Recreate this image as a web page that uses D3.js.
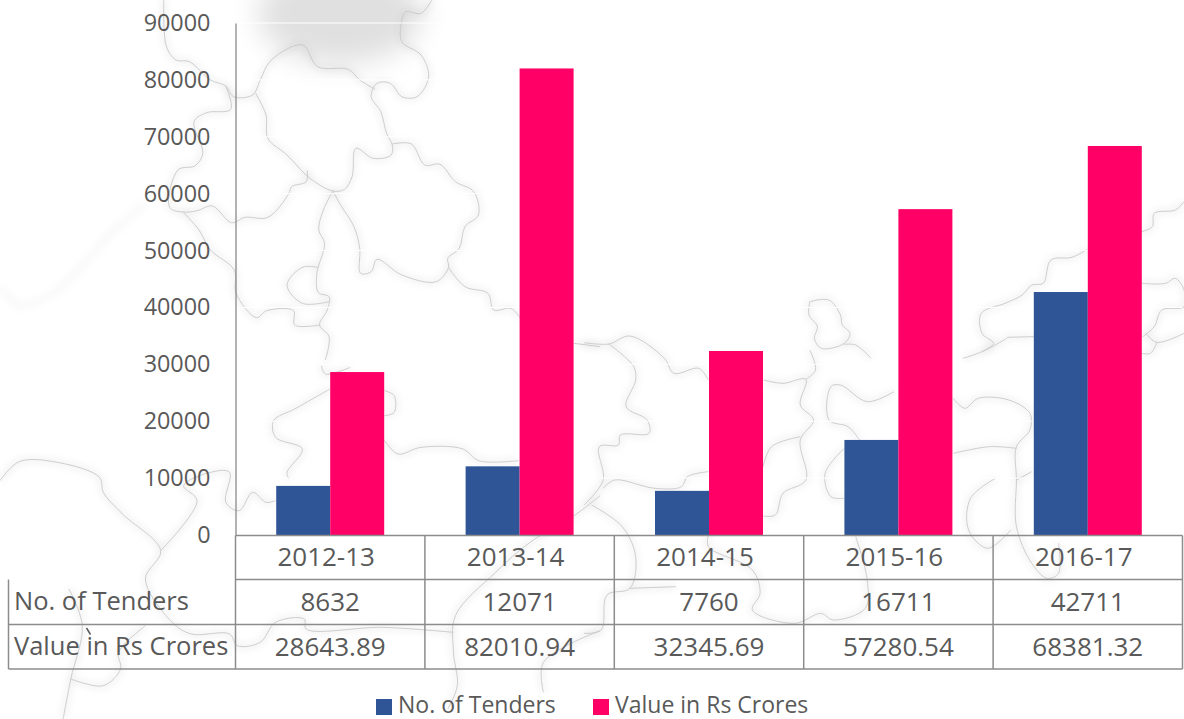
<!DOCTYPE html>
<html>
<head>
<meta charset="utf-8">
<script src="https://cdn.jsdelivr.net/npm/d3@7"></script>
<style>
  html, body { margin: 0; padding: 0; background: #fff; }
  svg { display: block; }
  text { font-family: "Open Sans", sans-serif; fill: #595959; }
  .axis path { stroke: #808080; stroke-width: 1.2; }
  .axis line { display: none; }
  .axis text { font-family: "Open Sans", sans-serif; font-size: 23.4px; fill: #595959; }
  .table-line { stroke: #8c8c8c; stroke-width: 1.5; }
</style>
</head>
<body>
<div id="chart"></div>
<script>
// DATA
const years = ["2012-13", "2013-14", "2014-15", "2015-16", "2016-17"];
const tenders = [8632, 12071, 7760, 16711, 42711];
const valueCrores = [28643.89, 82010.94, 32345.69, 57280.54, 68381.32];
const valueLabels = ["28643.89", "82010.94", "32345.69", "57280.54", "68381.32"];
const seriesNames = ["No. of Tenders", "Value in Rs Crores"];
const seriesColors = ["#2F5597", "#FF0066"];
const yTicks = [0, 10000, 20000, 30000, 40000, 50000, 60000, 70000, 80000, 90000];

// faint map behind the chart in four crops
// (crop x/y are stretched differently, toPage() puts them back on the page)
const crops = {
  topLeft: [0, 0],
  topRight: [584, 0],
  bottomLeft: [0, 359],
  bottomRight: [584, 330],
};
const mapTraces = [
  ["topLeft", [[428,0],[435,140],[460,180],[495,185],[550,240],[590,258],[610,290],[660,285],[680,240],[705,185],[770,137],[795,137],[830,200],[910,208],[940,240],[980,268]]],
  ["topLeft", [[590,258],[603,328],[540,338],[507,365],[530,460],[510,497],[465,510],[443,622],[478,636],[515,632],[555,618],[605,668],[640,652],[700,652],[755,580],[762,560],[800,545],[803,512]]],
  ["topLeft", [[668,280],[695,345],[700,415],[750,465],[810,535],[870,573],[900,568],[920,530],[930,445],[975,475],[1022,465],[1025,435],[1010,400],[995,335],[970,290],[985,250],[1020,250],[1050,290],[1090,290],[1120,230],[1100,165],[1050,125],[1050,60],[1060,35],[1100,40],[1128,0]]],
  ["topLeft", [[1025,432],[1075,432],[1110,495],[1150,493],[1190,545],[1238,575],[1250,645],[1215,680],[1200,745],[1170,775],[1172,802],[1140,845],[1050,825],[985,778],[970,815],[942,820],[940,745],[925,680],[890,615],[870,573]]],
  ["topLeft", [[870,573],[845,630],[833,690],[848,730],[828,820],[832,878],[860,890],[855,930],[835,975],[860,1010],[850,1080]]],
  ["topLeft", [[830,802],[790,802],[750,855],[790,910],[860,905]]],
  ["topLeft", [[478,636],[520,690],[550,750],[612,810],[617,880],[670,953],[697,932],[767,932],[770,975],[835,975]]],
  ["topLeft", [[1172,802],[1215,860],[1275,880],[1290,930],[1335,925],[1360,955]]],
  ["topLeft", [[1500,1030],[1568,1040]]],
  ["bottomLeft", [[1005,245],[1040,285],[1100,265],[1210,270],[1250,305],[1355,305]]],
  ["bottomLeft", [[0,365],[50,308],[150,310],[260,355],[270,400],[320,465],[420,575],[380,660],[450,790],[500,825],[600,825],[620,860],[680,850],[720,790],[795,780],[800,810],[1000,805],[1185,820]]],
  ["bottomLeft", [[420,575],[515,425],[480,380],[550,340],[600,340],[590,430],[625,455],[660,400],[695,430],[720,425]]],
  ["bottomLeft", [[862,90],[770,150],[715,185],[720,235],[790,270],[750,340],[755,360]]],
  ["bottomLeft", [[1005,95],[1030,110],[1030,160],[1005,170]]],
  ["bottomLeft", [[840,20],[850,45],[915,25]]],
  ["bottomLeft", [[180,690],[215,800],[185,960],[165,1080]]],
  ["bottomLeft", [[185,960],[270,980],[315,930],[310,880],[380,800]]],
  ["bottomLeft", [[1568,410],[1500,470],[1385,550],[1295,640],[1190,770],[1185,880],[1195,980],[1170,1050]]],
  ["bottomLeft", [[1420,1000],[1420,910],[1568,815]]],
  ["bottomRight", [[0,38],[65,42],[120,18],[210,85],[235,130],[300,115],[325,150]]],
  ["bottomRight", [[65,42],[130,110],[135,150],[110,230],[165,270],[170,310],[95,315],[90,345],[40,350],[50,450],[0,525]]],
  ["bottomRight", [[50,475],[80,450],[185,475],[255,470],[270,440],[325,425]]],
  ["bottomRight", [[20,525],[100,590],[135,680],[120,775],[60,795],[45,900],[0,910]]],
  ["bottomRight", [[120,775],[240,770]]],
  ["bottomRight", [[325,615],[325,650],[440,720],[460,790],[440,840],[550,880],[620,850],[650,870],[735,835],[740,750],[710,620]]],
  ["bottomRight", [[470,150],[520,160],[580,148],[565,225],[600,270],[565,330],[580,450],[520,490],[500,555],[468,558]]],
  ["bottomRight", [[468,410],[490,350],[565,320]]],
  ["bottomRight", [[590,60],[605,120],[580,148]]],
  ["bottomRight", [[720,330],[690,290],[640,270],[645,170],[670,165],[740,215],[810,185]]],
  ["bottomRight", [[680,355],[630,430],[645,500],[680,505]]],
  ["bottomRight", [[965,205],[995,235],[1030,205],[1110,210],[1165,250],[1165,300],[1130,350],[1130,450],[1130,590],[1170,700],[1210,745],[1240,730],[1240,640]]],
  ["bottomRight", [[965,370],[1060,350],[1130,355]]],
  ["bottomRight", [[1130,450],[1170,425]]],
  ["bottomRight", [[1075,445],[1010,505],[1005,600],[1055,655],[1115,600]]],
  ["topRight", [[1105,1012],[1175,1010]]],
  ["topRight", [[990,1075],[1040,1055],[1105,1015]]],
  ["topRight", [[1040,1055],[1070,1030],[1040,1000],[1038,940],[1100,910],[1145,885],[1170,855],[1200,850],[1220,780],[1275,772],[1315,748]]],
  ["topRight", [[1457,695],[1485,680],[1490,640],[1545,630],[1568,605]]],
  ["topRight", [[1457,850],[1520,850],[1545,835],[1568,870],[1568,920],[1510,930],[1490,980],[1460,1010]]],
  ["topRight", [[1468,1000],[1497,1027],[1568,1000]]],
  ["topRight", [[1497,1027],[1480,1060],[1457,1060]]],
  ["topRight", [[590,905],[640,900],[670,945],[675,975],[695,1000],[680,1030],[620,1045],[602,1015],[610,980],[588,945],[590,905]]],
  ["topRight", [[680,1033],[710,1035],[750,1075]]],
];
const faintHalo = ["topLeft", [[0,860],[50,915],[150,870],[290,700],[380,610]]];

const width = 1184, height = 719;
const plot = { left: 235.5, right: 1182.5, top: 23, bottom: 535 };
const rowLines = [535.5, 579.5, 624.5, 669];
const tableLeft = 8.5;

function toPage(trace) {
  const [ox, oy] = crops[trace[0]];
  return trace[1].map((p) => [ox + p[0] * 0.3827, oy + p[1] / 3]);
}

const svg = d3.select("#chart").append("svg").attr("width", width).attr("height", height);

const defs = svg.append("defs");
defs.append("filter").attr("id", "soft").attr("filterUnits", "userSpaceOnUse")
  .attr("x", 0).attr("y", 0).attr("width", width).attr("height", height)
  .append("feGaussianBlur").attr("stdDeviation", 3.5);
defs.append("filter").attr("id", "cloud").attr("filterUnits", "userSpaceOnUse")
  .attr("x", 0).attr("y", -100).attr("width", width).attr("height", 400)
  .append("feGaussianBlur").attr("stdDeviation", 14);

// SCALES
const xScale = d3.scaleBand().domain(years).range([plot.left, plot.right]);
const xInner = d3.scaleBand().domain(seriesNames).range([0, xScale.bandwidth()]).paddingOuter(0.754).paddingInner(0);
const yScale = d3.scaleLinear().domain([0, 90000]).range([plot.bottom, plot.top]);

// BACKGROUND MAP
const mapLine = d3.line().curve(d3.curveCatmullRom.alpha(0.5));
const map = svg.append("g").attr("class", "map");
map.append("ellipse").attr("cx", 340).attr("cy", 14).attr("rx", 82).attr("ry", 50)
  .attr("fill", "#e0e0e0").attr("filter", "url(#cloud)");
map.append("g").attr("filter", "url(#soft)")
  .selectAll("path").data(mapTraces).join("path")
  .attr("d", (d) => mapLine(toPage(d)))
  .attr("fill", "none").attr("stroke", "#000").attr("stroke-opacity", 0.05).attr("stroke-width", 6);
map.append("path").attr("filter", "url(#soft)")
  .attr("d", mapLine(toPage(faintHalo)))
  .attr("fill", "none").attr("stroke", "#000").attr("stroke-opacity", 0.025).attr("stroke-width", 8);
map.append("g")
  .selectAll("path").data(mapTraces).join("path")
  .attr("d", (d) => mapLine(toPage(d)))
  .attr("fill", "none").attr("stroke", "#c8c8c8").attr("stroke-width", 0.9);

// white gridlines only show where they cross the grey map
svg.append("g").selectAll("line").data(yTicks.slice(1)).join("line")
  .attr("x1", plot.left).attr("x2", plot.right)
  .attr("y1", (d) => yScale(d)).attr("y2", (d) => yScale(d))
  .attr("stroke", "#fff").attr("stroke-width", 1);

// BARS
const seriesValues = [tenders, valueCrores];
seriesNames.forEach((name, i) => {
  svg.append("g").selectAll("rect").data(seriesValues[i]).join("rect")
    .attr("x", (d, j) => xScale(years[j]) + xInner(name))
    .attr("width", xInner.bandwidth())
    .attr("y", (d) => yScale(d))
    .attr("height", (d) => yScale(0) - yScale(d))
    .attr("fill", seriesColors[i]);
});

// AXIS
svg.append("g").attr("class", "axis y-axis")
  .attr("transform", `translate(${plot.left},0)`)
  .call(d3.axisLeft(yScale).tickValues(yTicks).tickFormat(d3.format("d")).tickSize(0).tickPadding(25));

// DATA TABLE
const table = svg.append("g");
rowLines.forEach((y, i) => {
  table.append("line").attr("class", "table-line")
    .attr("x1", i < 2 ? plot.left : tableLeft).attr("x2", plot.right)
    .attr("y1", y).attr("y2", y);
});
table.selectAll(".col").data(years.concat("end")).join("line")
  .attr("class", "col table-line")
  .attr("x1", (d) => (d === "end" ? plot.right : xScale(d)))
  .attr("x2", (d) => (d === "end" ? plot.right : xScale(d)))
  .attr("y1", rowLines[0]).attr("y2", rowLines[3]);
table.append("line").attr("class", "table-line")
  .attr("x1", tableLeft).attr("x2", tableLeft).attr("y1", rowLines[1]).attr("y2", rowLines[3]);

function cellRow(labels, baseline, shift) {
  table.append("g").selectAll("text").data(labels).join("text")
    .attr("x", (d, i) => xScale(years[i]) + xScale.bandwidth() / 2 + shift)
    .attr("y", baseline)
    .attr("text-anchor", "middle")
    .attr("font-size", 26)
    .text((d) => d);
}
cellRow(years, 566, -4);
cellRow(tenders, 611, 0);
cellRow(valueLabels, 655.5, 0);

table.selectAll(".row-label").data(seriesNames).join("text")
  .attr("class", "row-label")
  .attr("x", 14)
  .attr("y", (d, i) => [610, 654.5][i])
  .attr("font-size", 25.5)
  .text((d) => d);

// stray accent above "in" in the source image
svg.append("path").attr("d", "M86.5,628L90.5,634.5").attr("stroke", "#595959").attr("stroke-width", 1.5);

// LEGEND
const legendX = [376, 593];
const legend = svg.append("g").selectAll("g").data(seriesNames).join("g")
  .attr("transform", (d, i) => `translate(${legendX[i]},699)`);
legend.append("rect").attr("width", 16).attr("height", 16).attr("fill", (d, i) => seriesColors[i]);
legend.append("text").attr("x", 22).attr("y", 13.5).attr("font-size", 23).text((d) => d);
</script>
</body>
</html>
